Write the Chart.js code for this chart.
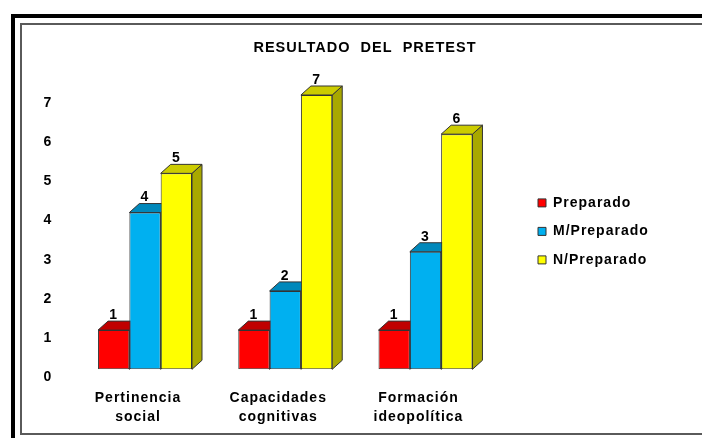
<!DOCTYPE html>
<html>
<head>
<meta charset="utf-8">
<script src="https://cdn.jsdelivr.net/npm/chart.js@4"></script>
<style>
  html, body { margin: 0; padding: 0; background: #fff; }
  #wrap { position: relative; width: 702px; height: 438px; overflow: hidden; }
  #outer { position: absolute; left: 11px; top: 14px; right: -20px; bottom: -20px;
           border-top: 4px solid #000; border-left: 4px solid #000; }
  #inner { position: absolute; left: 20px; top: 23px; right: -20px; height: 408px;
           border: 2px solid #5a5a5a; border-right: none; }
  canvas { position: absolute; left: 0; top: 0; }
</style>
</head>
<body>
<div id="wrap">
  <div id="outer"></div>
  <div id="inner"></div>
  <canvas id="chart" width="702" height="438"></canvas>
</div>
<script>
// data
const categories = [['Pertinencia', 'social'], ['Capacidades', 'cognitivas'], ['Formación', 'ideopolítica']];
const seriesNames = ['Preparado', 'M/Preparado', 'N/Preparado'];
const preparado = [1, 1, 1];
const mPreparado = [4, 2, 3];
const nPreparado = [5, 7, 6];
const yTicks = [0, 1, 2, 3, 4, 5, 6, 7];

// colours: front, top, side
const frontColors = ['#ff0000', '#00b0f0', '#ffff00'];
const topColors = ['#c00000', '#0088bb', '#cccc00'];
const sideColors = ['#990000', '#006f99', '#a8a800'];
const edge = '#333333';
const FONT = "'Liberation Sans', Arial, sans-serif";
const DX = 10, DY = 9;

Chart.defaults.color = '#000';
Chart.defaults.font.family = FONT;

// letter spacing the old office renderer uses
const spacing = {
  id: 'spacing',
  beforeUpdate(c) { c.ctx.letterSpacing = '1px'; },
  beforeLayout(c) { c.ctx.letterSpacing = '1px'; },
  beforeDraw(c) { c.ctx.letterSpacing = '1px'; }
};

// top + side faces, drawn before the fronts so later bars cover them
const bar3d = {
  id: 'bar3d',
  beforeDatasetsDraw(chart) {
    const ctx = chart.ctx;
    ctx.save();
    ctx.lineWidth = 1;
    ctx.strokeStyle = edge;
    chart.data.datasets.forEach((ds, i) => {
      chart.getDatasetMeta(i).data.forEach(bar => {
        const { x, y, base, width } = bar.getProps(['x', 'y', 'base', 'width'], true);
        const l = x - width / 2, r = x + width / 2;
        ctx.fillStyle = sideColors[i];
        ctx.beginPath();
        ctx.moveTo(r, y); ctx.lineTo(r + DX, y - DY); ctx.lineTo(r + DX, base - DY); ctx.lineTo(r, base);
        ctx.closePath(); ctx.fill(); ctx.stroke();
        ctx.fillStyle = topColors[i];
        ctx.beginPath();
        ctx.moveTo(l, y); ctx.lineTo(l + DX, y - DY); ctx.lineTo(r + DX, y - DY); ctx.lineTo(r, y);
        ctx.closePath(); ctx.fill(); ctx.stroke();
      });
    });
    ctx.restore();
  },
  afterDatasetsDraw(chart) {
    const ctx = chart.ctx;
    ctx.save();
    ctx.font = 'bold 14px ' + FONT;
    ctx.fillStyle = '#000';
    ctx.textAlign = 'center';
    ctx.textBaseline = 'middle';
    chart.data.datasets.forEach((ds, i) => {
      chart.getDatasetMeta(i).data.forEach((bar, j) => {
        ctx.fillText(String(ds.data[j]), bar.x, bar.y - 15);
      });
    });
    ctx.restore();
  }
};

const values = [preparado, mPreparado, nPreparado];

// empty right-hand axes used only as spacers around the legend
const spacer = (w, weight) => ({
  axis: 'y',
  position: 'right',
  weight: weight,
  grid: { display: false, drawTicks: false },
  border: { display: false },
  ticks: { display: false },
  afterFit: s => { s.width = w; }
});

new Chart(document.getElementById('chart'), {
  type: 'bar',
  data: {
    labels: categories,
    datasets: seriesNames.map((name, i) => ({
      label: name,
      data: values[i],
      backgroundColor: frontColors[i],
      borderColor: edge,
      borderWidth: 1,
      borderSkipped: false,
      categoryPercentage: 0.67,
      barPercentage: 1
    }))
  },
  options: {
    responsive: false,
    animation: false,
    layout: { padding: { left: 28, right: 0, top: 24, bottom: 11.2 } },
    plugins: {
      title: {
        display: true,
        text: 'RESULTADO  DEL  PRETEST',
        font: { size: 14.5, weight: 'bold', lineHeight: 1.2 },
        padding: { top: 15.5, bottom: 38.1 }
      },
      legend: {
        position: 'right',
        maxWidth: 130,
        // empty title, only nudges the items down a little
        title: { display: true, text: '', font: { size: 10, lineHeight: 1.2 }, padding: 0 },
        labels: {
          boxWidth: 8,
          boxHeight: 8,
          padding: 14.5,
          font: { size: 14, weight: 'bold' }
        }
      },
      tooltip: { enabled: false }
    },
    scales: {
      x: {
        grid: { display: false, drawTicks: false },
        border: { display: false },
        afterFit: s => { s.height = 57.5; },
        ticks: {
          padding: 19,
          labelOffset: -7,
          maxRotation: 0,
          font: { size: 14, weight: 'bold', lineHeight: 1.375 }
        }
      },
      y: {
        min: 0,
        max: 7,
        grid: { display: false, drawTicks: false },
        border: { display: false },
        afterBuildTicks: s => { s.ticks = yTicks.map(v => ({ value: v })); },
        afterFit: s => { s.width = 46.9; },
        ticks: {
          padding: 22.5,
          labelOffset: 8,
          font: { size: 14, weight: 'bold' }
        }
      },
      gap: spacer(27.9, 0),
      edge: spacer(48.5, 2000)
    }
  },
  plugins: [spacing, bar3d]
});
</script>
</body>
</html>
